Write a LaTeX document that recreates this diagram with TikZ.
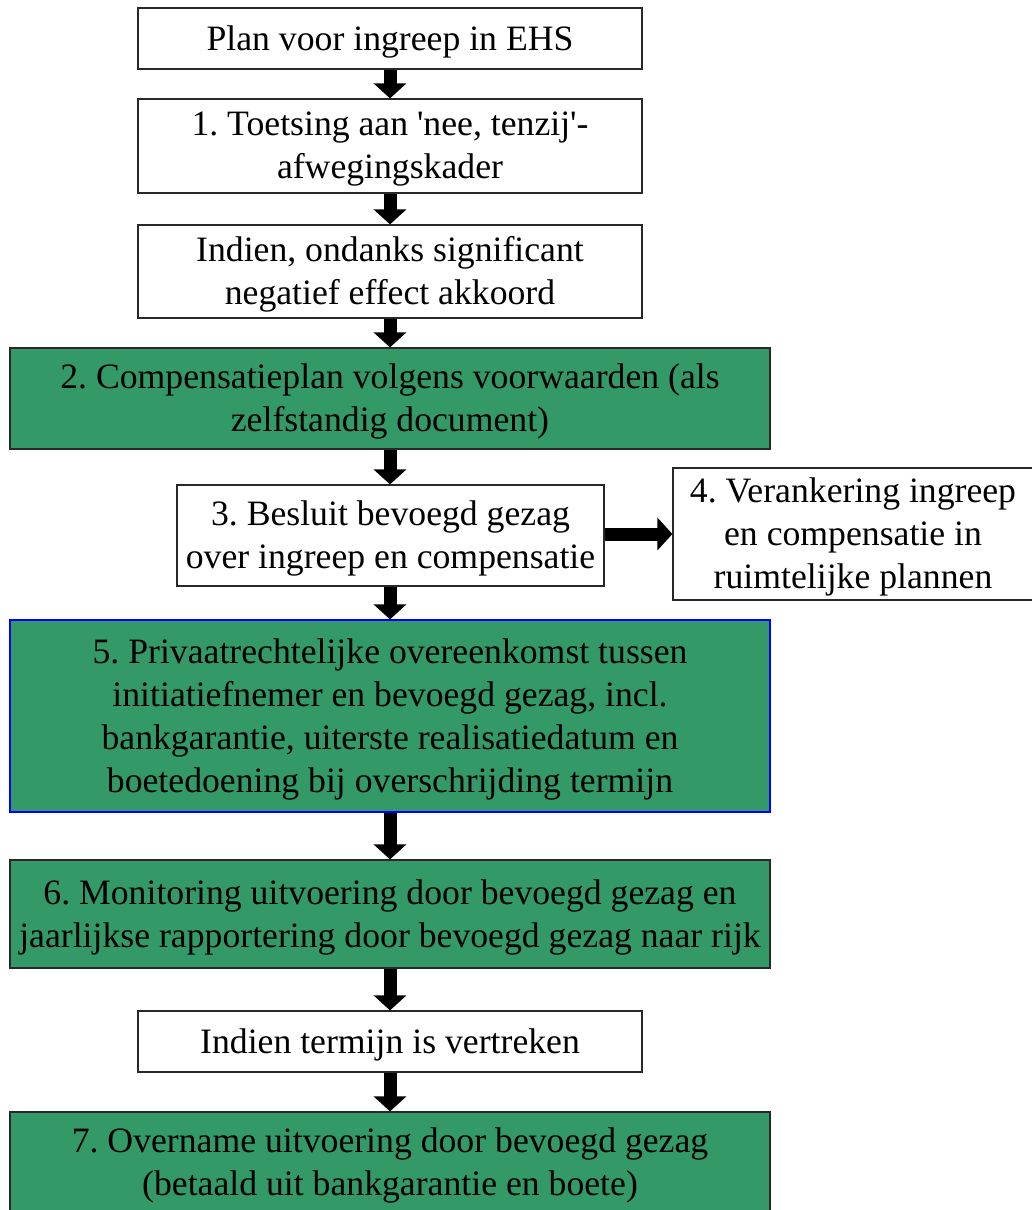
\documentclass[tikz,border=0pt]{standalone}
\usepackage{fontspec}
\setmainfont{Liberation Serif}
\usetikzlibrary{arrows.meta}
\definecolor{boxgreen}{RGB}{51,153,102}
\definecolor{boxline}{RGB}{40,40,40}
\tikzset{
  box/.style={draw=boxline, line width=1.2pt, fill=white, inner sep=0pt},
  gbox/.style={box, fill=boxgreen},
  boxtext/.style={align=center, inner sep=0pt, font=\fontsize{35.7}{43}\selectfont\frenchspacing},
  flow/.style={line width=13pt, -{Triangle[width=32pt,length=15pt]}}
}
\newcommand{\boxat}[7]{% name, style, x1, y1, x2, y2, text
  \node[#2, minimum width={#5-#3}, minimum height={#6-#4}] (#1) at ({(#3+#5)/2},{(#4+#6)/2}) {};
  \node[boxtext] (#1-t) at ({(#3+#5)/2},{(#4+#6)/2+3}) {#7};}
\begin{document}
\begin{tikzpicture}[x=1pt,y=-1pt]
\useasboundingbox (0,0) rectangle (1032,1210);
\fill[white] (0,0) rectangle (1032,1210);
\boxat{plan}{box}{138}{8}{642}{69}{Plan voor ingreep in EHS}
\boxat{toets}{box}{138}{99}{642}{193}{1. Toetsing aan \textquotesingle nee, tenzij\textquotesingle-\\afwegingskader}
\boxat{indien}{box}{138}{225}{642}{318}{Indien, ondanks significant\\negatief effect akkoord}
\boxat{comp}{gbox}{10}{348}{770}{449}{2. Compensatieplan volgens voorwaarden (als\\zelfstandig document)}
\boxat{besluit}{box}{177}{485}{604}{586}{3. Besluit bevoegd gezag\\over ingreep en compensatie}
\boxat{veranker}{box}{673}{468}{1033}{600}{4. Verankering ingreep\\en compensatie in\\ruimtelijke plannen}
\boxat{privaat}{gbox, draw=blue}{10}{620}{770}{812}{5. Privaatrechtelijke overeenkomst tussen\\initiatiefnemer en bevoegd gezag, incl.\\bankgarantie, uiterste realisatiedatum en\\boetedoening bij overschrijding termijn}
\boxat{monitor}{gbox}{10}{860}{770}{968}{6. Monitoring uitvoering door bevoegd gezag en\\jaarlijkse rapportering door bevoegd gezag naar rijk}
\boxat{termijn}{box}{138}{1011}{642}{1072}{Indien termijn is vertreken}
\boxat{overname}{gbox}{10}{1112}{770}{1212}{7. Overname uitvoering door bevoegd gezag\\(betaald uit bankgarantie en boete)}
\draw[flow] (plan.south -| 390,0) -- (toets.north -| 390,0);
\draw[flow] (toets.south -| 390,0) -- (indien.north -| 390,0);
\draw[flow] (indien.south -| 390,0) -- (comp.north -| 390,0);
\draw[flow] (comp.south -| 390,0) -- (besluit.north -| 390,0);
\draw[flow] (besluit.south -| 390,0) -- (privaat.north -| 390,0);
\draw[flow] (privaat.south -| 390,0) -- (monitor.north -| 390,0);
\draw[flow] (monitor.south -| 390,0) -- (termijn.north -| 390,0);
\draw[flow] (termijn.south -| 390,0) -- (overname.north -| 390,0);
\draw[flow] (besluit.east |- 0,534) -- (veranker.west |- 0,534);
\end{tikzpicture}
\end{document}
